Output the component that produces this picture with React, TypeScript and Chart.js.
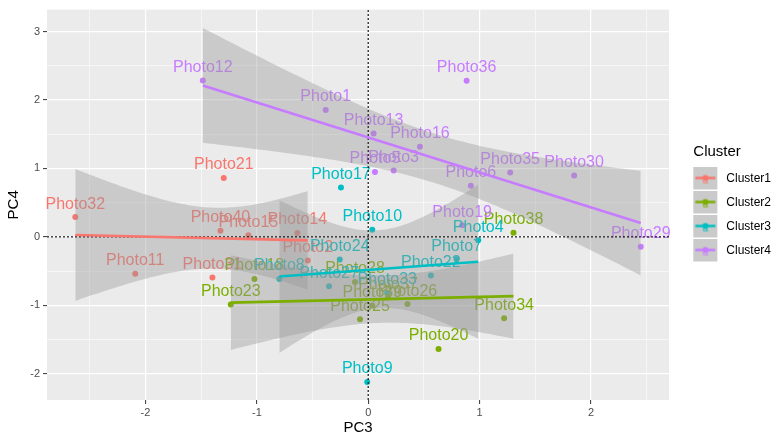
import React, { useEffect, useRef } from "react";
import { Chart, registerables } from "chart.js";

Chart.register(...registerables);

// ---------------- data ----------------
const clusterNames = ["Cluster1", "Cluster2", "Cluster3", "Cluster4"];
const clusterColors = ["#F8766D", "#7CAE00", "#00BFC4", "#C77CFF"];

const cluster1Labels = ["Photo32", "Photo40", "Photo15", "Photo14", "Photo2", "Photo11", "Photo31", "Photo21"];
const cluster1PC3 = [-2.63, -1.327, -1.076, -0.637, -0.543, -2.092, -1.399, -1.297];
const cluster1PC4 = [0.288, 0.09, 0.023, 0.056, -0.348, -0.54, -0.594, 0.861];

const cluster2Labels = ["Photo38", "Photo34", "Photo20", "Photo25", "Photo23", "Photo18", "Photo26", "Photo28", "Photo39", "Photo37"];
const cluster2PC3 = [1.304, 1.22, 0.631, -0.074, -1.234, -1.022, 0.352, -0.119, 0.036, 0.177];
const cluster2PC4 = [0.061, -1.19, -1.639, -1.205, -0.988, -0.618, -0.984, -0.662, -1.003, -0.883];

const cluster3Labels = ["Photo17", "Photo10", "Photo4", "Photo7", "Photo22", "Photo24", "Photo8", "Photo27", "Photo9", "Photo33"];
const cluster3PC3 = [-0.245, 0.036, 0.987, 0.793, 0.562, -0.256, -0.798, -0.352, -0.009, 0.17];
const cluster3PC4 = [0.721, 0.104, -0.049, -0.329, -0.565, -0.331, -0.618, -0.724, -2.121, -0.821];

const cluster4Labels = ["Photo12", "Photo1", "Photo36", "Photo13", "Photo16", "Photo5", "Photo3", "Photo6", "Photo35", "Photo30", "Photo19", "Photo29"];
const cluster4PC3 = [-1.485, -0.382, 0.883, 0.048, 0.464, 0.06, 0.228, 0.921, 1.274, 1.848, 0.843, 2.446];
const cluster4PC4 = [2.286, 1.853, 2.282, 1.512, 1.318, 0.948, 0.971, 0.746, 0.942, 0.895, 0.168, -0.146];

const allLabels = [cluster1Labels, cluster2Labels, cluster3Labels, cluster4Labels];
const allPC3 = [cluster1PC3, cluster2PC3, cluster3PC3, cluster4PC3];
const allPC4 = [cluster1PC4, cluster2PC4, cluster3PC4, cluster4PC4];

// axis limits and ticks
const X_MIN = -2.884;
const X_MAX = 2.7;
const Y_MIN = -2.386;
const Y_MAX = 3.322;
const TICK_STEP = 0.5;

const FONT = '"Liberation Sans", Arial, Helvetica, sans-serif';

// ---------------- statistics (lm + 95% CI like geom_smooth) ----------------
function lgamma(z: number): number {
  const c = [
    0.99999999999980993, 676.5203681218851, -1259.1392167224028, 771.32342877765313,
    -176.61502916214059, 12.507343278686905, -0.13857109526572012, 9.9843695780195716e-6,
    1.5056327351493116e-7,
  ];
  if (z < 0.5) return Math.log(Math.PI / Math.sin(Math.PI * z)) - lgamma(1 - z);
  z -= 1;
  let x = c[0];
  for (let i = 1; i < 9; i++) x += c[i] / (z + i);
  const t = z + 7.5;
  return 0.5 * Math.log(2 * Math.PI) + (z + 0.5) * Math.log(t) - t + Math.log(x);
}
function tPdf(t: number, df: number) {
  return Math.exp(
    lgamma((df + 1) / 2) - lgamma(df / 2) - 0.5 * Math.log(df * Math.PI) - ((df + 1) / 2) * Math.log(1 + (t * t) / df)
  );
}
function tCdf(t: number, df: number) {
  const n = 400;
  const h = t / n;
  let s = tPdf(0, df) + tPdf(t, df);
  for (let i = 1; i < n; i++) s += (i % 2 ? 4 : 2) * tPdf(i * h, df);
  return 0.5 + (s * h) / 3;
}
function tQuantile(p: number, df: number) {
  let lo = 0, hi = 30;
  for (let k = 0; k < 60; k++) {
    const mid = (lo + hi) / 2;
    if (tCdf(mid, df) < p) lo = mid; else hi = mid;
  }
  return (lo + hi) / 2;
}
function lmSmooth(xs: number[], ys: number[], steps = 80) {
  const n = xs.length;
  const mx = xs.reduce((a, b) => a + b, 0) / n;
  const my = ys.reduce((a, b) => a + b, 0) / n;
  let sxx = 0, sxy = 0;
  for (let i = 0; i < n; i++) {
    sxx += (xs[i] - mx) ** 2;
    sxy += (xs[i] - mx) * (ys[i] - my);
  }
  const b = sxy / sxx;
  const a = my - b * mx;
  let ssr = 0;
  for (let i = 0; i < n; i++) ssr += (ys[i] - (a + b * xs[i])) ** 2;
  const s = Math.sqrt(ssr / (n - 2));
  const tq = tQuantile(0.975, n - 2);
  const lo = Math.min(...xs), hi = Math.max(...xs);
  const fit: { x: number; y: number }[] = [];
  const upper: { x: number; y: number }[] = [];
  const lower: { x: number; y: number }[] = [];
  for (let i = 0; i < steps; i++) {
    const x = lo + ((hi - lo) * i) / (steps - 1);
    const yh = a + b * x;
    const se = s * Math.sqrt(1 / n + (x - mx) ** 2 / sxx);
    fit.push({ x, y: yh });
    upper.push({ x, y: yh + tq * se });
    lower.push({ x, y: yh - tq * se });
  }
  return { fit: [fit[0], fit[fit.length - 1]], upper, lower };
}

// ---------------- legend key images ----------------
function makeKey(color: string): HTMLCanvasElement {
  const c = document.createElement("canvas");
  c.width = 39;
  c.height = 24;
  const g = c.getContext("2d")!;
  g.fillStyle = "#CACACA";
  g.fillRect(0, 0, 24, 23);
  g.strokeStyle = color;
  g.lineWidth = 2.5;
  g.beginPath();
  g.moveTo(2, 11.5);
  g.lineTo(22, 11.5);
  g.stroke();
  g.fillStyle = color;
  g.beginPath();
  g.arc(12, 11.5, 3, 0, Math.PI * 2);
  g.fill();
  g.font = `10px ${FONT}`;
  g.textAlign = "center";
  g.textBaseline = "middle";
  g.fillText("a", 12, 14);
  return c;
}

const isMajor = (v: number) => Math.abs(v - Math.round(v)) < 1e-6;

const bgPlugin = {
  id: "panelBg",
  beforeDraw(chart: any) {
    const { ctx, chartArea } = chart;
    ctx.save();
    ctx.fillStyle = "#FFFFFF";
    ctx.fillRect(0, 0, chart.width, chart.height);
    ctx.fillStyle = "#EBEBEB";
    ctx.fillRect(chartArea.left, chartArea.top, chartArea.right - chartArea.left, chartArea.bottom - chartArea.top);
    ctx.restore();
  },
};

const labelPlugin = {
  id: "photoLabels",
  afterDatasetDraw(chart: any, args: any) {
    if (args.index !== 0) return;
    const ctx = chart.ctx;
    ctx.save();
    ctx.font = `16px ${FONT}`;
    ctx.textAlign = "center";
    ctx.textBaseline = "middle";
    for (let d = 0; d < clusterNames.length; d++) {
      const meta = chart.getDatasetMeta(d);
      ctx.fillStyle = clusterColors[d];
      meta.data.forEach((el: any, i: number) => {
        ctx.fillText(allLabels[d][i], el.x, el.y - 13);
      });
    }
    ctx.restore();
  },
};

export default function App() {
  const canvasRef = useRef<HTMLCanvasElement | null>(null);

  useEffect(() => {
    if (!canvasRef.current) return;
    Chart.defaults.font.family = FONT;

    const datasets: any[] = [];
    // points (index 0..3)
    clusterNames.forEach((name, k) => {
      datasets.push({
        type: "scatter",
        label: name,
        data: allPC3[k].map((x, i) => ({ x, y: allPC4[k][i] })),
        backgroundColor: clusterColors[k],
        borderWidth: 0,
        pointRadius: 3,
        order: 10,
        xAxisID: "x",
        yAxisID: "y",
      });
    });
    const smooths = clusterNames.map((_, k) => lmSmooth(allPC3[k], allPC4[k]));
    // confidence bands
    smooths.forEach((sm) => {
      datasets.push({
        type: "line",
        data: sm.upper,
        borderWidth: 0,
        pointRadius: 0,
        fill: false,
        order: 5,
        xAxisID: "x",
        yAxisID: "y",
      });
      datasets.push({
        type: "line",
        data: sm.lower,
        borderWidth: 0,
        pointRadius: 0,
        fill: "-1",
        backgroundColor: "rgba(153,153,153,0.4)",
        order: 5,
        xAxisID: "x",
        yAxisID: "y",
      });
    });
    // reference lines at 0
    datasets.push({
      type: "line",
      data: [{ x: X_MIN, y: 0 }, { x: X_MAX, y: 0 }],
      borderColor: "rgba(20,20,20,0.85)",
      borderWidth: 1.4,
      borderDash: [2, 2],
      pointRadius: 0,
      order: 3,
      xAxisID: "x",
      yAxisID: "y",
    });
    datasets.push({
      type: "line",
      data: [{ x: 0, y: Y_MIN }, { x: 0, y: Y_MAX }],
      borderColor: "rgba(20,20,20,0.85)",
      borderWidth: 1.4,
      borderDash: [2, 2],
      pointRadius: 0,
      order: 3,
      xAxisID: "x",
      yAxisID: "y",
    });
    // regression lines
    smooths.forEach((sm, k) => {
      datasets.push({
        type: "line",
        data: sm.fit,
        borderColor: clusterColors[k],
        borderWidth: 2.6,
        pointRadius: 0,
        fill: false,
        order: 1,
        xAxisID: "x",
        yAxisID: "y",
      });
    });

    const keys = clusterColors.map((c) => makeKey(c));

    const tickFmt = (v: any) => (isMajor(Number(v)) ? String(Math.round(Number(v))) : "");
    const gridWidth = (ctx: any) => (ctx.tick && isMajor(ctx.tick.value) ? 1.2 : 0.55);
    const tickCol = (ctx: any) => (ctx.tick && isMajor(ctx.tick.value) ? "#333333" : "rgba(0,0,0,0)");

    const chart = new Chart(canvasRef.current, {
      type: "scatter",
      data: { datasets },
      plugins: [bgPlugin, labelPlugin],
      options: {
        animation: false,
        responsive: true,
        maintainAspectRatio: false,
        events: [],
        layout: { padding: { top: 5, left: 0, right: 0, bottom: 0 } },
        scales: {
          x: {
            type: "linear",
            position: "bottom",
            min: X_MIN,
            max: X_MAX,
            afterFit: (s: any) => {
              s.height = 38;
            },
            ticks: {
              stepSize: TICK_STEP,
              includeBounds: false,
              autoSkip: false,
              maxRotation: 0,
              color: "#4D4D4D",
              font: { size: 11 },
              padding: 2,
              callback: tickFmt,
            },
            grid: {
              color: "#FFFFFF",
              lineWidth: gridWidth,
              drawTicks: true,
              tickLength: 4,
              tickColor: tickCol,
              tickWidth: 1,
            },
            border: { display: false },
            title: { display: true, text: "PC3", color: "#000000", font: { size: 15 }, padding: { top: 0, bottom: 1 } },
          },
          y: {
            type: "linear",
            position: "left",
            min: Y_MIN,
            max: Y_MAX,
            afterFit: (s: any) => {
              s.width = 47;
            },
            ticks: {
              stepSize: TICK_STEP,
              includeBounds: false,
              autoSkip: false,
              color: "#4D4D4D",
              font: { size: 11 },
              padding: 3,
              callback: tickFmt,
            },
            grid: {
              color: "#FFFFFF",
              lineWidth: gridWidth,
              drawTicks: true,
              tickLength: 4,
              tickColor: tickCol,
              tickWidth: 1,
            },
            border: { display: false },
            title: { display: true, text: "PC4", color: "#000000", font: { size: 15 }, padding: { top: 5, bottom: 0 } },
          },
          yR: {
            type: "linear",
            position: "right",
            display: true,
            afterFit: (s: any) => {
              s.width = 24.3;
            },
            ticks: { display: false },
            grid: { display: false, drawTicks: false },
            border: { display: false },
          },
        },
        plugins: {
          tooltip: { enabled: false },
          legend: {
            display: true,
            position: "right",
            align: "start",
            title: {
              display: true,
              text: "Cluster",
              position: "start",
              color: "#000000",
              font: { size: 15, lineHeight: 1.1 },
              padding: { top: 139, bottom: 0 },
            },
            labels: {
              usePointStyle: true,
              pointStyleWidth: 15,
              padding: 12,
              color: "#000000",
              font: { size: 12 },
              generateLabels: () =>
                clusterNames.map((name, i) => ({
                  text: name,
                  pointStyle: keys[i],
                  fillStyle: clusterColors[i],
                  strokeStyle: clusterColors[i],
                  lineWidth: 0,
                  hidden: false,
                  datasetIndex: i,
                  fontColor: "#000000",
                })),
            },
          },
        },
      } as any,
    });

    return () => {
      chart.destroy();
    };
  }, []);

  return (
    <div style={{ position: "fixed", left: 0, top: 0, width: 781, height: 438, background: "#fff" }}>
      <canvas ref={canvasRef} />
    </div>
  );
}
